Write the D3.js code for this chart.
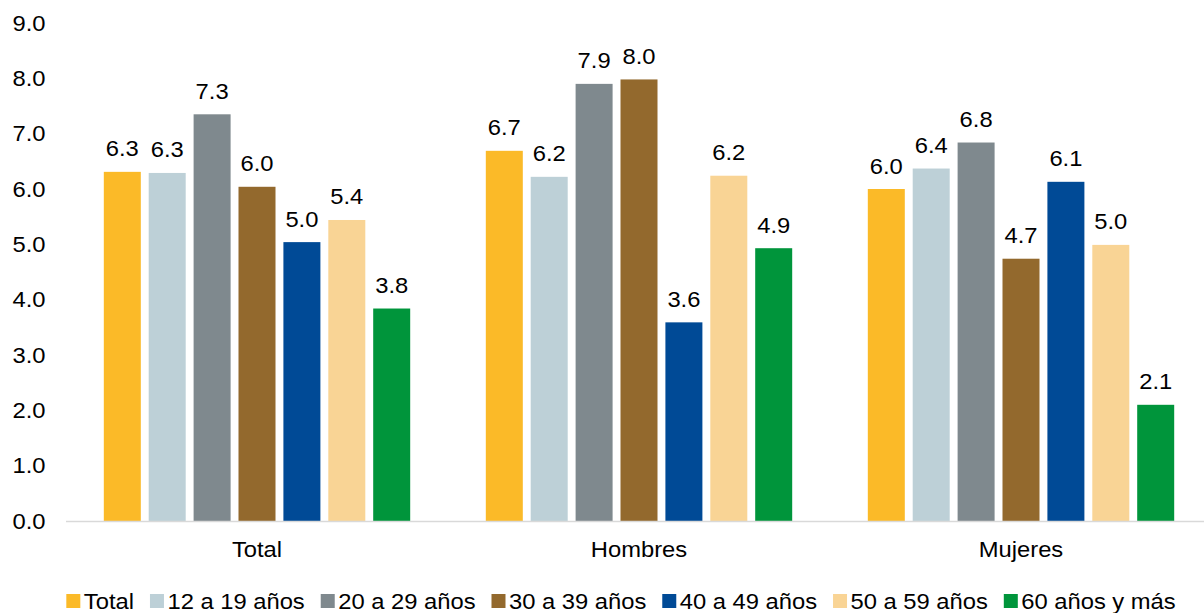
<!DOCTYPE html>
<html>
<head>
<meta charset="utf-8">
<script src="https://cdn.jsdelivr.net/npm/d3@7"></script>
<style>
  html, body { margin: 0; padding: 0; background: #ffffff; }
  svg { display: block; }
  text { font-family: "Liberation Sans", Arial, sans-serif; fill: #000; }
</style>
</head>
<body>
<svg id="chart" width="1204" height="613"></svg>
<script>
// ---- data ----
const categories = ["Total", "Hombres", "Mujeres"];
const seriesNames = ["Total", "12 a 19 años", "20 a 29 años", "30 a 39 años", "40 a 49 años", "50 a 59 años", "60 años y más"];
const seriesColors = ["#FBBA28", "#BDD0D7", "#7F898E", "#93692D", "#004A96", "#F9D495", "#00953B"];
const valuesTotal   = [6.31, 6.29, 7.35, 6.04, 5.04, 5.44, 3.84];
const valuesHombres = [6.69, 6.22, 7.90, 7.98, 3.59, 6.24, 4.93];
const valuesMujeres = [6.00, 6.37, 6.84, 4.74, 6.13, 4.99, 2.10];
const yTicks = [0, 1, 2, 3, 4, 5, 6, 7, 8, 9];

const groupValues = [valuesTotal, valuesHombres, valuesMujeres];

// ---- layout ----
const svg = d3.select("#chart");
const FS = 22, SX = 1.08;

const x0 = d3.scaleBand().domain(categories).range([66, 1212]).paddingInner(0).paddingOuter(0);
const x1 = d3.scaleBand().domain(seriesNames).range([0, x0.bandwidth()]).paddingInner(0.176).paddingOuter(0.842);
const y = d3.scaleLinear().domain([0, 9]).range([521, 23]);

function stretchedText(sel, x, yy, str, anchor) {
  return sel.append("text")
    .attr("transform", `translate(${x},${yy}) scale(${SX},1)`)
    .attr("text-anchor", anchor)
    .style("font-size", FS + "px")
    .text(str);
}

// y tick labels
const yAxisG = svg.append("g");
yTicks.forEach(t => {
  stretchedText(yAxisG, 45.5, y(t) + 7.8, d3.format(".1f")(t), "end");
});

// bars
const rows = [];
categories.forEach((c, gi) => {
  seriesNames.forEach((s, si) => {
    rows.push({ cat: c, series: s, value: groupValues[gi][si], color: seriesColors[si] });
  });
});

svg.append("g").selectAll("rect").data(rows).join("rect")
  .attr("x", d => x0(d.cat) + x1(d.series))
  .attr("y", d => y(d.value))
  .attr("width", x1.bandwidth())
  .attr("height", d => y(0) - y(d.value))
  .attr("fill", d => d.color);

// value labels
const lblG = svg.append("g");
rows.forEach(d => {
  stretchedText(lblG, x0(d.cat) + x1(d.series) + x1.bandwidth() / 2, y(d.value) - 15.5, d.value.toFixed(1), "middle");
});

// x axis line
svg.append("line")
  .attr("x1", 66).attr("x2", 1212)
  .attr("y1", y(0) + 0.5).attr("y2", y(0) + 0.5)
  .attr("stroke", "#D9D9D9").attr("stroke-width", 1.5);

// category labels
const catG = svg.append("g");
categories.forEach(c => {
  stretchedText(catG, x0(c) + x0.bandwidth() / 2, 557, c, "middle");
});

// legend
const legG = svg.append("g");
const sq = 14, gapSqText = 3.5, gapItems = 16;
const items = seriesNames.map((s, i) => {
  const g = legG.append("g");
  g.append("rect").attr("x", 0).attr("y", -15).attr("width", sq).attr("height", sq).attr("fill", seriesColors[i]);
  const t = stretchedText(g, sq + gapSqText, 0, s, "start");
  const w = t.node().getComputedTextLength() * SX;
  return { g, w: sq + gapSqText + w };
});
const totalW = d3.sum(items, d => d.w) + gapItems * (items.length - 1);
let lx = 621 - totalW / 2;
items.forEach(it => {
  it.g.attr("transform", `translate(${lx},609)`);
  lx += it.w + gapItems;
});
</script>
</body>
</html>
